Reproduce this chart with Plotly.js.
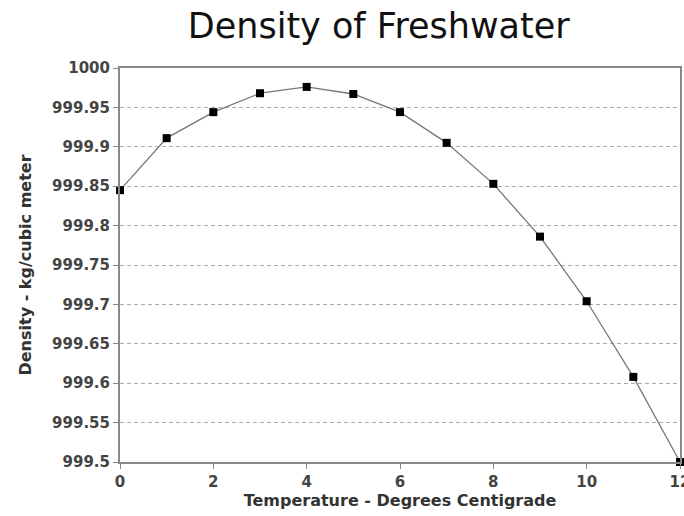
<!DOCTYPE html>
<html>
<head>
<meta charset="utf-8">
<script src="https://cdn.plot.ly/plotly-3.0.1.min.js"></script>
<style>html,body{margin:0;padding:0;background:#fff;}#chart{width:684px;height:516px;}</style>
</head>
<body>
<div id="chart"></div>
<script>
const temperature = [0, 1, 2, 3, 4, 5, 6, 7, 8, 9, 10, 11, 12];
const density = [999.845, 999.911, 999.944, 999.968, 999.976, 999.967, 999.944, 999.905, 999.853, 999.786, 999.704, 999.608, 999.500];
const yTickVals = [999.5, 999.55, 999.6, 999.65, 999.7, 999.75, 999.8, 999.85, 999.9, 999.95, 1000];
const yTickText = ['999.5', '999.55', '999.6', '999.65', '999.7', '999.75', '999.8', '999.85', '999.9', '999.95', '1000'];
const xTickVals = [0, 2, 4, 6, 8, 10, 12];

const trace = {
  x: temperature, y: density, type: 'scatter', mode: 'lines+markers',
  line: {color: '#777', width: 1.3},
  marker: {symbol: 'square', size: 8, color: '#000'},
  cliponaxis: false, hoverinfo: 'none'
};
const FONT = 'DejaVu Sans, Verdana, sans-serif';
const layout = {
  width: 684, height: 516,
  margin: {l: 120, r: 4, t: 68, b: 54},
  paper_bgcolor: '#fff', plot_bgcolor: '#fff',
  showlegend: false,
  font: {family: FONT, color: '#333'},
  title: {text: 'Density of Freshwater', xref: 'paper', x: 0.462, xanchor: 'center', yref: 'container', y: 0.95, yanchor: 'middle',
          font: {size: 35, color: '#111', family: FONT}},
  xaxis: {
    range: [0, 12], tickvals: xTickVals, ticks: 'outside', ticklen: 5, tickcolor: '#888',
    ticklabeloverflow: 'allow',
    showgrid: false, zeroline: false, showline: true, linecolor: '#888', linewidth: 2, mirror: true,
    tickfont: {size: 15, color: '#444', family: FONT, weight: 'bold'},
    title: {text: '<b>Temperature - Degrees Centigrade</b>', standoff: 5, font: {size: 16, color: '#333', family: FONT}}
  },
  yaxis: {
    range: [999.5, 1000], tickvals: yTickVals, ticktext: yTickText, ticks: 'outside', ticklen: 5, tickcolor: '#888',
    showgrid: true, gridcolor: '#aaa', griddash: '4px,3px', gridwidth: 1, zeroline: false,
    showline: true, linecolor: '#888', linewidth: 2, mirror: true,
    tickfont: {size: 15, color: '#444', family: FONT, weight: 'bold'},
    title: {text: '<b>Density - kg/cubic meter</b>', standoff: 17, font: {size: 16, color: '#333', family: FONT}}
  }
};
Plotly.newPlot('chart', [trace], layout, {staticPlot: true});
</script>
</body>
</html>
